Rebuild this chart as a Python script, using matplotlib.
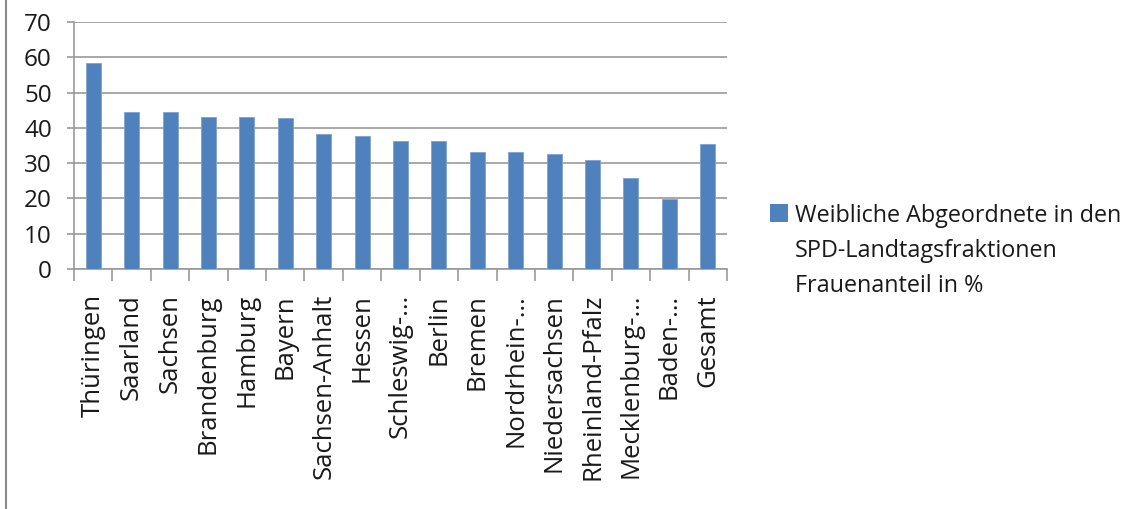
import matplotlib
matplotlib.use("Agg")
import matplotlib.pyplot as plt
from matplotlib.patches import Rectangle
from matplotlib.lines import Line2D
import numpy as np

plt.rcParams['font.family'] = ['Open Sans', 'DejaVu Sans']

laender = ["Thüringen", "Saarland", "Sachsen", "Brandenburg", "Hamburg", "Bayern",
           "Sachsen-Anhalt", "Hessen", "Schleswig-\u2026", "Berlin", "Bremen",
           "Nordrhein-\u2026", "Niedersachsen", "Rheinland-Pfalz", "Mecklenburg-\u2026",
           "Baden-\u2026", "Gesamt"]
frauenanteil = [58.5, 44.4, 44.4, 43.1, 43.1, 42.7, 38.4, 37.6, 36.2, 36.2, 33.1,
                33.1, 32.7, 30.9, 25.7, 19.7, 35.3]
y_ticks = [0, 10, 20, 30, 40, 50, 60, 70]
legend_lines = ["Weibliche Abgeordnete in den", "SPD-Landtagsfraktionen", "Frauenanteil in %"]

bar_color = "#4F81BD"
grid_color = "#999999"

W, H = 1128, 509
fig = plt.figure(figsize=(W / 100, H / 100), dpi=100)
ax = fig.add_axes([74 / W, 1 - 269 / H, (727 - 74) / W, (269 - 22) / H])

x = np.arange(len(laender))
ax.bar(x, frauenanteil, width=0.39, color=bar_color, edgecolor="#7FA3D0",
       linewidth=0.6, zorder=3)

ax.set_ylim(0, 70)
ax.set_xlim(-0.5, len(laender) - 0.5)
ax.set_yticks(y_ticks)
ax.set_yticklabels([str(v) for v in y_ticks], fontsize=17.5, color="#1a1a1a")
ax.yaxis.grid(True, color=grid_color, linewidth=1.2, zorder=0)
ax.tick_params(axis="y", length=5, width=1.2, color=grid_color, pad=11)

# category labels centred under the bars, ticks on the category boundaries
ax.set_xticks(x)
ax.set_xticklabels(laender, rotation=90, fontsize=18.5, color="#1a1a1a",
                   va="top", ha="center")
ax.tick_params(axis="x", length=0, pad=18)
ax.set_xticks(np.arange(-0.5, len(laender), 1.0), minor=True)
ax.tick_params(axis="x", which="minor", length=8.5, width=1.2, color=grid_color)

for side in ["top", "right"]:
    ax.spines[side].set_visible(False)
ax.spines["left"].set_color(grid_color)
ax.spines["left"].set_linewidth(1.2)
ax.spines["bottom"].set_color(grid_color)
ax.spines["bottom"].set_linewidth(1.2)

# legend: coloured square beside a three-line label
fig.patches.append(Rectangle((770 / W, 1 - 222 / H), 18 / W, 18 / H,
                             transform=fig.transFigure, facecolor=bar_color,
                             edgecolor="none"))
for i, line in enumerate(legend_lines):
    fig.text(795 / W, 1 - (222 + 35 * i) / H, line, fontsize=16.8,
             color="#1a1a1a", ha="left", va="baseline")

# chart frame edge on the left
fig.add_artist(Line2D([5.5 / W, 5.5 / W], [0, 1], transform=fig.transFigure,
                      color="#8c8c8c", linewidth=1.5))

fig.savefig("out.png", dpi=100)
